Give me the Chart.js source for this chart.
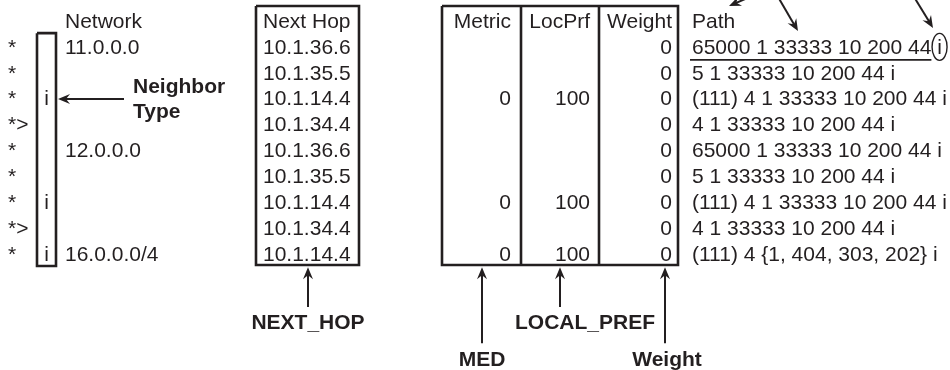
<!DOCTYPE html>
<html lang="en">
<head>
    <meta charset="UTF-8">
    <title>BGP Table Attributes</title>
    <script src="https://cdn.jsdelivr.net/npm/chart.js"></script>
    <style>
        body { margin: 0; background: #fff; }
        #wrap { width: 950px; height: 370px; }
    </style>
</head>
<body>
    <div id="wrap"><canvas id="bgpChart"></canvas></div>
    <script>
        // table rows (row 1..9), header is row 0
        const headers = ['Network', 'Next Hop', 'Metric', 'LocPrf', 'Weight', 'Path'];
        const statusCodes = ['*', '*', '*', '*>', '*', '*', '*', '*>', '*'];
        const neighborTypes = ['', '', 'i', '', '', '', 'i', '', 'i'];
        const networks = ['11.0.0.0', '', '', '', '12.0.0.0', '', '', '', '16.0.0.0/4'];
        const nextHops = ['10.1.36.6', '10.1.35.5', '10.1.14.4', '10.1.34.4', '10.1.36.6',
                          '10.1.35.5', '10.1.14.4', '10.1.34.4', '10.1.14.4'];
        const metrics = [null, null, 0, null, null, null, 0, null, 0];
        const locPrfs = [null, null, 100, null, null, null, 100, null, 100];
        const weights = [0, 0, 0, 0, 0, 0, 0, 0, 0];
        const paths = ['65000 1 33333 10 200 44 i', '5 1 33333 10 200 44 i', '(111) 4 1 33333 10 200 44 i',
                       '4 1 33333 10 200 44 i', '65000 1 33333 10 200 44 i', '5 1 33333 10 200 44 i',
                       '(111) 4 1 33333 10 200 44 i', '4 1 33333 10 200 44 i', '(111) 4 {1, 404, 303, 202} i'];
        const callouts = ['Neighbor', 'Type', 'NEXT_HOP', 'LOCAL_PREF', 'MED', 'Weight'];

        // layout: x in pixel units, y in row units
        const col = { status: 8, type: 46.5, network: 65, nextHop: 263, metric: 511, locPrf: 590, weight: 672, path: 692 };
        const ink = '#231f20';
        const font = '21px "Liberation Sans", Arial, sans-serif';
        const bold = 'bold 21px "Liberation Sans", Arial, sans-serif';

        function textSet(texts, x, align, f) {
            return {
                texts: texts, align: align, font: f || font,
                data: texts.map((_, i) => ({ x: x, y: i + 1 })),
                pointRadius: 0, showLine: false
            };
        }
        function labelSet(texts, pts, align, f) {
            return { texts: texts, align: align, font: f, data: pts, pointRadius: 0, showLine: false };
        }
        function boxSet(pts, w) {
            return { data: pts, showLine: true, pointRadius: 0, borderColor: ink, borderWidth: w || 2.6,
                     tension: 0, fill: false, borderJoinStyle: 'miter' };
        }
        function rect(x0, x1, r0, r1) {
            return [{x: x0, y: r0}, {x: x1, y: r0}, {x: x1, y: r1}, {x: x0, y: r1}, {x: x0, y: r0}];
        }

        const arrows = [
            { from: {x: 124, y: 2.97}, to: {x: 58, y: 2.97} },
            { from: {x: 308, y: 11.0}, to: {x: 308, y: 9.47} },
            { from: {x: 482, y: 12.4}, to: {x: 482, y: 9.47} },
            { from: {x: 560, y: 11.0}, to: {x: 560, y: 9.47} },
            { from: {x: 665, y: 12.4}, to: {x: 665, y: 9.47} },
            { from: {x: 752, y: -1.0}, to: {x: 729, y: -0.62} },
            { from: {x: 778, y: -0.97}, to: {x: 798, y: 0.35} },
            { from: {x: 914, y: -0.97}, to: {x: 933, y: 0.23} }
        ];

        const diagram = {
            id: 'diagram',
            afterDatasetsDraw(chart) {
                const { ctx, scales: { x, y } } = chart;
                ctx.save();
                ctx.fillStyle = ink;
                ctx.textBaseline = 'middle';
                chart.data.datasets.forEach((ds, di) => {
                    if (!ds.texts) return;
                    ctx.font = ds.font;
                    ctx.textAlign = ds.align;
                    chart.getDatasetMeta(di).data.forEach((pt, i) => {
                        const t = ds.texts[i];
                        if (t === null || t === '') return;
                        ctx.fillText(String(t), pt.x, pt.y);
                    });
                });

                // underline + circled origin on the first path
                ctx.font = font;
                const px = x.getPixelForValue(col.path);
                const py = y.getPixelForValue(1);
                const base = paths[0].slice(0, -2);
                const uw = ctx.measureText(base).width;
                ctx.strokeStyle = ink;
                ctx.lineWidth = 1.6;
                ctx.beginPath();
                ctx.moveTo(px - 2, py + 12);
                ctx.lineTo(px + uw, py + 12);
                ctx.stroke();
                const ix = px + ctx.measureText(paths[0].slice(0, -1)).width + ctx.measureText('i').width / 2;
                ctx.lineWidth = 1.4;
                ctx.beginPath();
                ctx.ellipse(ix, py - 1, 7.5, 13.5, 0, 0, Math.PI * 2);
                ctx.stroke();

                // arrows
                ctx.lineWidth = 2;
                arrows.forEach(a => {
                    const x0 = x.getPixelForValue(a.from.x), y0 = y.getPixelForValue(a.from.y);
                    const x1 = x.getPixelForValue(a.to.x), y1 = y.getPixelForValue(a.to.y);
                    const ang = Math.atan2(y1 - y0, x1 - x0);
                    const len = 12, half = 5;
                    const bx = x1 - Math.cos(ang) * len, by = y1 - Math.sin(ang) * len;
                    ctx.beginPath();
                    ctx.moveTo(x0, y0);
                    ctx.lineTo(x1 - Math.cos(ang) * 6, y1 - Math.sin(ang) * 6);
                    ctx.stroke();
                    ctx.beginPath();
                    ctx.moveTo(x1, y1);
                    ctx.lineTo(bx + Math.sin(ang) * half, by - Math.cos(ang) * half);
                    ctx.lineTo(x1 - Math.cos(ang) * 8, y1 - Math.sin(ang) * 8);
                    ctx.lineTo(bx - Math.sin(ang) * half, by + Math.cos(ang) * half);
                    ctx.closePath();
                    ctx.fill();
                });
                ctx.restore();
            }
        };

        const datasets = [
            boxSet(rect(37, 56, 0.43, 9.42)),
            boxSet(rect(256, 359, -0.62, 9.38)),
            boxSet(rect(442, 678, -0.62, 9.38)),
            boxSet([{x: 521, y: -0.62}, {x: 521, y: 9.38}]),
            boxSet([{x: 599, y: -0.62}, {x: 599, y: 9.38}]),
            labelSet(headers, [{x: col.network, y: 0}, {x: col.nextHop, y: 0}, {x: col.metric, y: 0},
                               {x: col.locPrf, y: 0}, {x: col.weight, y: 0}, {x: col.path, y: 0}],
                     null, font),
            textSet(statusCodes, col.status, 'left'),
            textSet(neighborTypes, col.type, 'center'),
            textSet(networks, col.network, 'left'),
            textSet(nextHops, col.nextHop, 'left'),
            textSet(metrics, col.metric, 'right'),
            textSet(locPrfs, col.locPrf, 'right'),
            textSet(weights, col.weight, 'right'),
            textSet(paths, col.path, 'left'),
            labelSet(callouts.slice(0, 2), [{x: 133, y: 2.5}, {x: 133, y: 3.5}], 'left', bold),
            labelSet(callouts.slice(2), [{x: 308, y: 11.62}, {x: 585, y: 11.62}, {x: 482, y: 13.05}, {x: 667, y: 13.05}],
                     'center', bold)
        ];
        // header alignment: left for text columns, right for numeric ones
        datasets[5].alignEach = ['left', 'left', 'right', 'right', 'right', 'left'];

        // split header into per-column sets so each gets its own alignment
        const hdr = datasets.splice(5, 1)[0];
        hdr.data.forEach((p, i) => {
            datasets.push(labelSet([headers[i]], [p], hdr.alignEach[i], font));
        });

        new Chart(document.getElementById('bgpChart'), {
            type: 'scatter',
            data: { datasets: datasets },
            options: {
                responsive: true,
                maintainAspectRatio: false,
                animation: false,
                layout: { padding: 0 },
                plugins: { legend: { display: false }, tooltip: { enabled: false } },
                scales: {
                    x: { type: 'linear', display: false, min: 0, max: 950 },
                    y: { type: 'linear', display: false, reverse: true, min: -22 / 25.9, max: 348 / 25.9 }
                }
            },
            plugins: [diagram]
        });
    </script>
</body>
</html>
